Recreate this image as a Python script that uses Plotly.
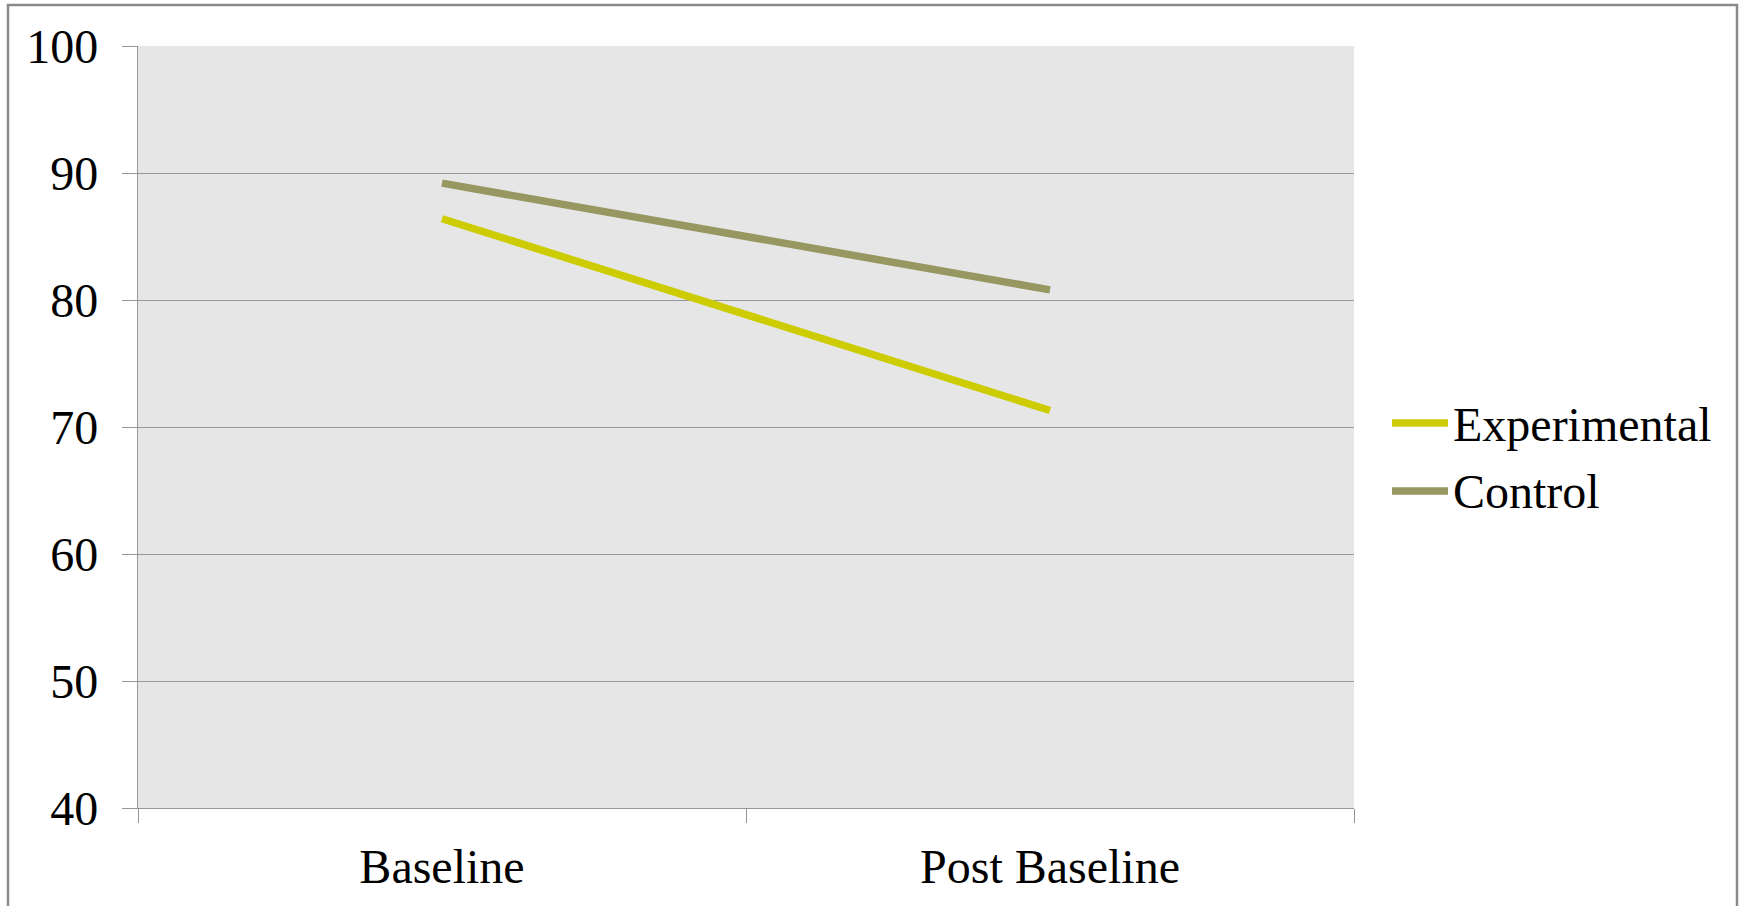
import plotly.graph_objects as go

# Scores at each time point
categories = ["Baseline", "Post Baseline"]
experimental = [86.4, 71.3]
control = [89.2, 80.8]
series_names = ["Experimental", "Control"]
series_colors = ["#CCCC00", "#979762"]
y_ticks = [40, 50, 60, 70, 80, 90, 100]

W, H = 1741, 906
L, R, T, B = 138, 1354, 46, 808  # plot area in pixels
pw, ph = R - L, B - T


def px_x(x):
    return (x - L) / pw


def px_y(y):
    return (B - y) / ph


FONT = "Liberation Serif, Times New Roman, serif"
GRID = "#989898"

fig = go.Figure()
for name, vals, col in zip(series_names, [experimental, control], series_colors):
    fig.add_trace(go.Scatter(
        x=categories, y=vals, mode="lines", name=name,
        line=dict(color=col, width=7.5), showlegend=False,
    ))

shapes = [
    # outer frame
    dict(type="rect", xref="paper", yref="paper",
         x0=px_x(8), x1=px_x(1737), y0=px_y(912), y1=px_y(5),
         line=dict(color="#8a8a8a", width=2.5), fillcolor="rgba(0,0,0,0)", layer="below"),
]
annotations = []
legend_rows = [423, 491]
for name, col, yy in zip(series_names, series_colors, legend_rows):
    shapes.append(dict(type="line", xref="paper", yref="paper",
                       x0=px_x(1392), x1=px_x(1448), y0=px_y(yy), y1=px_y(yy),
                       line=dict(color=col, width=7.5)))
    annotations.append(dict(xref="paper", yref="paper", x=px_x(1451), y=px_y(yy + 1),
                            text=name, showarrow=False, xanchor="left", yanchor="middle",
                            font=dict(family=FONT, size=48, color="black")))

fig.update_layout(
    width=W, height=H,
    margin=dict(l=L, r=W - R, t=T, b=H - B, pad=0),
    paper_bgcolor="white", plot_bgcolor="#E6E6E6",
    font=dict(family=FONT, size=48, color="black"),
    shapes=shapes, annotations=annotations,
    showlegend=False,
    xaxis=dict(
        type="category", range=[-0.5, 1.5], tickson="boundaries",
        ticks="outside", ticklen=14, tickcolor=GRID, tickwidth=1.3,
        showline=True, linecolor=GRID, linewidth=1.3, automargin=False,
        showgrid=False, zeroline=False, ticklabelstandoff=16,
        tickfont=dict(family=FONT, size=48, color="black"),
    ),
    yaxis=dict(
        range=[40, 100], tickvals=y_ticks,
        ticks="outside", ticklen=15, tickcolor=GRID, tickwidth=1.3,
        showline=True, linecolor=GRID, linewidth=1.3, automargin=False,
        showgrid=True, gridcolor=GRID, gridwidth=1.3, zeroline=False,
        ticklabelstandoff=14,
        tickfont=dict(family=FONT, size=48, color="black"),
    ),
)

fig.write_html("out.html")
